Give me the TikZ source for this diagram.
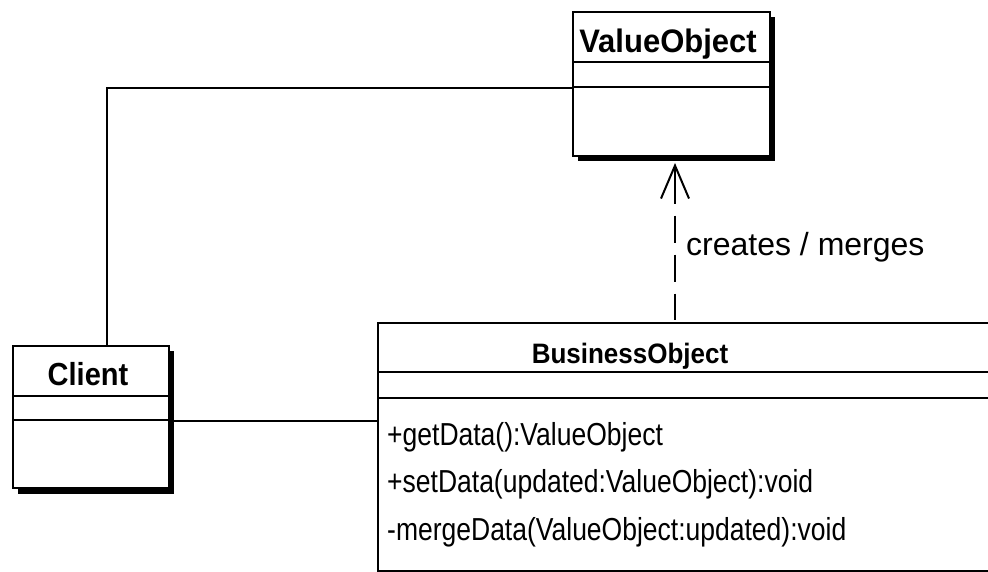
\documentclass[tikz,border=0pt]{standalone}
\usepackage{fontspec}
\usepackage{graphicx}
\setmainfont{Liberation Sans}
\usetikzlibrary{arrows.meta}
\newcommand\vstretch[2]{\scalebox{1}[#1]{#2}}
\begin{document}
\begin{tikzpicture}[x=1pt,y=-1pt,
  box/.style={draw,line width=2pt,fill=white,inner sep=0pt,anchor=north west},
  shade/.style={fill=black},
  sep/.style={line width=2.5pt},
  conn/.style={line width=2pt},
  ttl/.style={anchor=base,inner sep=0pt,font=\bfseries\fontsize{#1}{#1}\selectfont},
  op/.style={anchor=base west,inner sep=0pt,font=\fontsize{26.5}{30}\selectfont},
  lbl/.style={anchor=base west,inner sep=0pt,font=\fontsize{32}{36}\selectfont},
  dep/.style={line width=2pt,dash pattern=on 37pt off 12pt on 27pt off 12pt on 27pt off 12pt on 26pt off 40pt,
    {Straight Barb[length=33pt,width=28pt,line width=2pt]}-},
  ]
\useasboundingbox (0,0) rectangle (988,572);
\clip (0,0) rectangle (988,572);
\fill[white] (0,0) rectangle (988,572);

% ValueObject
\fill[shade] (578,17) rectangle (775,161);
\node[box,minimum width=197pt,minimum height=144pt] (vo) at (572,11) {};
\draw[sep] (vo.west |- 0,62) -- (vo.east |- 0,62);
\draw[sep] (vo.west |- 0,87) -- (vo.east |- 0,87);
\node[ttl=31] (voT) at (668,53) {\vstretch{1.05}{ValueObject}};

% Client
\fill[shade] (18,351) rectangle (174,494);
\node[box,minimum width=156pt,minimum height=142pt] (client) at (12,345) {};
\draw[sep] (client.west |- 0,396) -- (client.east |- 0,396);
\draw[sep] (client.west |- 0,420) -- (client.east |- 0,420);
\node[ttl=29] (clT) at (88,385) {\vstretch{1.1}{Client}};

% BusinessObject
\node[box,minimum width=623pt,minimum height=248pt] (bo) at (377,322) {};
\draw[sep] (bo.west |- 0,372) -- (bo.east |- 0,372);
\draw[sep] (bo.west |- 0,398) -- (bo.east |- 0,398);
\node[ttl=26] (boT) at (630,363) {\vstretch{1.08}{BusinessObject}};
\node[op] (m1) at (387,445) {\vstretch{1.2}{+getData():ValueObject}};
\node[op] (m2) at (387,492) {\vstretch{1.2}{+setData(updated:ValueObject):void}};
\node[op] (m3) at (387,540) {\vstretch{1.2}{-mergeData(ValueObject:updated):void}};

% connectors
\draw[conn] ([xshift=16pt]client.north) |- ([yshift=-4pt]vo.west);
\draw[conn] ([yshift=-4pt]client.east) -- ([yshift=-4pt]client.east -| bo.west);
\draw[dep] ([xshift=3.5pt,yshift=-6pt]vo.south) -- ([xshift=3.5pt]vo.south |- bo.north);
\node[lbl] (crm) at (686,255) {creates / merges};
\end{tikzpicture}
\end{document}
